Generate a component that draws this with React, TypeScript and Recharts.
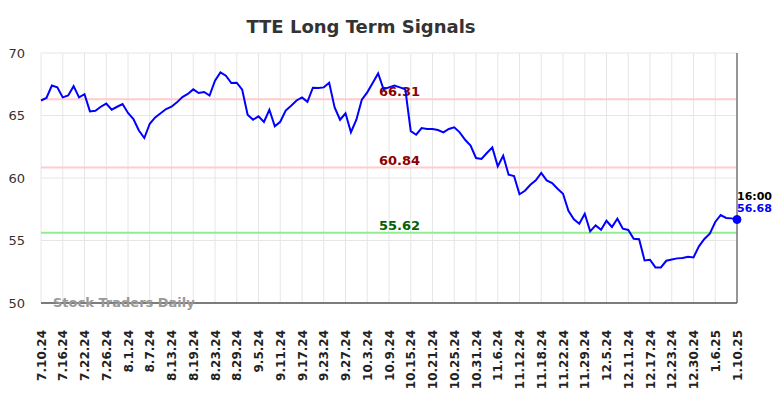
import React from "react";
import {
  LineChart,
  Line,
  XAxis,
  YAxis,
  CartesianGrid,
  ReferenceLine,
  ReferenceDot,
} from "recharts";

const dates: string[] = [
  "7.10.24","7.11.24","7.12.24","7.15.24","7.16.24","7.17.24","7.18.24","7.19.24","7.22.24","7.23.24","7.24.24","7.25.24","7.26.24","7.29.24","7.30.24","7.31.24",
  "8.1.24","8.2.24","8.5.24","8.6.24","8.7.24","8.8.24","8.9.24","8.12.24","8.13.24","8.14.24","8.15.24","8.16.24","8.19.24","8.20.24","8.21.24","8.22.24","8.23.24","8.26.24","8.27.24","8.28.24","8.29.24","8.30.24",
  "9.3.24","9.4.24","9.5.24","9.6.24","9.9.24","9.10.24","9.11.24","9.12.24","9.13.24","9.16.24","9.17.24","9.18.24","9.19.24","9.20.24","9.23.24","9.24.24","9.25.24","9.26.24","9.27.24","9.30.24",
  "10.1.24","10.2.24","10.3.24","10.4.24","10.7.24","10.8.24","10.9.24","10.10.24","10.11.24","10.14.24","10.15.24","10.16.24","10.17.24","10.18.24","10.21.24","10.22.24","10.23.24","10.24.24","10.25.24","10.28.24","10.29.24","10.30.24","10.31.24",
  "11.1.24","11.4.24","11.5.24","11.6.24","11.7.24","11.8.24","11.11.24","11.12.24","11.13.24","11.14.24","11.15.24","11.18.24","11.19.24","11.20.24","11.21.24","11.22.24","11.25.24","11.26.24","11.27.24","11.29.24",
  "12.2.24","12.3.24","12.4.24","12.5.24","12.6.24","12.9.24","12.10.24","12.11.24","12.12.24","12.13.24","12.16.24","12.17.24","12.18.24","12.19.24","12.20.24","12.23.24","12.24.24","12.26.24","12.27.24","12.30.24","12.31.24",
  "1.2.25","1.3.25","1.6.25","1.7.25","1.8.25","1.9.25","1.10.25",
];

const prices: number[] = [
  66.2, 66.4, 67.4, 67.25, 66.45, 66.6, 67.35, 66.45, 66.7, 65.33,
  65.38, 65.7, 65.95, 65.46, 65.7, 65.92, 65.2, 64.72, 63.8, 63.2,
  64.34, 64.85, 65.18, 65.52, 65.7, 66.05, 66.48, 66.72, 67.09, 66.8,
  66.88, 66.6, 67.78, 68.45, 68.18, 67.6, 67.62, 67.06, 65.06, 64.66,
  64.93, 64.48, 65.46, 64.13, 64.5, 65.4, 65.78, 66.2, 66.45, 66.1,
  67.22, 67.2, 67.25, 67.62, 65.65, 64.66, 65.18, 63.66, 64.66, 66.26,
  66.85, 67.6, 68.36, 67.1, 67.25, 67.4, 67.25, 67.1, 63.75, 63.46,
  64.0, 63.92, 63.92, 63.84, 63.65, 63.92, 64.05, 63.65, 63.06, 62.6,
  61.6, 61.52, 62.0, 62.45, 60.93, 61.78, 60.26, 60.15, 58.7, 58.98,
  59.46, 59.81, 60.4, 59.81, 59.6, 59.14, 58.74, 57.38, 56.7, 56.34,
  57.14, 55.73, 56.21, 55.86, 56.58, 56.08, 56.74, 55.94, 55.84, 55.14,
  55.1, 53.41, 53.46, 52.85, 52.85, 53.38, 53.48, 53.57, 53.6, 53.7,
  53.65, 54.53, 55.12, 55.54, 56.48, 57.04, 56.8, 56.77, 56.68,
];

const tickLabels: string[] = [
  "7.10.24","7.16.24","7.22.24","7.26.24","8.1.24","8.7.24","8.13.24","8.19.24","8.23.24","8.29.24",
  "9.5.24","9.11.24","9.17.24","9.23.24","9.27.24","10.3.24","10.9.24","10.15.24","10.21.24","10.25.24",
  "10.31.24","11.6.24","11.12.24","11.18.24","11.22.24","11.29.24","12.5.24","12.11.24","12.17.24","12.23.24",
  "12.30.24","1.6.25","1.10.25",
];

const yTicks: number[] = [50, 55, 60, 65, 70];

const resistanceHigh = 66.31;
const resistanceMid = 60.84;
const support = 55.62;
const lastTime = "16:00";

const data = dates.map((d, i) => ({ date: d, price: prices[i] }));
const lastDate = dates[dates.length - 1];
const lastPrice = prices[prices.length - 1];

const FONT = "'DejaVu Sans', sans-serif";

const XTick = (props: any) => {
  const { x, y, payload } = props;
  return (
    <text
      x={0}
      y={0}
      transform={`translate(${x + 4.5},${y + 19}) rotate(-90)`}
      textAnchor="end"
      fontFamily={FONT}
      fontWeight="bold"
      fontSize={12}
      fill="#222"
    >
      {payload.value}
    </text>
  );
};

const makeRefLabel = (text: string, color: string) => (props: any) => {
  const vb = props.viewBox || {};
  return (
    <text
      x={vb.x + vb.width * 0.515}
      y={vb.y - 3}
      textAnchor="middle"
      fontFamily={FONT}
      fontWeight="bold"
      fontSize={13}
      fill={color}
    >
      {text}
    </text>
  );
};

const EndLabel = (props: any) => {
  const vb = props.viewBox || {};
  const cx = vb.x + (vb.width || 0) / 2;
  const cy = vb.y + (vb.height || 0) / 2;
  return (
    <g fontFamily={FONT} fontWeight="bold" fontSize={11}>
      <text x={cx} y={cy - 20} fill="#000" textAnchor="start">
        {lastTime}
      </text>
      <text x={cx} y={cy - 8} fill="#0000ff" textAnchor="start">
        {lastPrice.toFixed(2)}
      </text>
    </g>
  );
};

export default function App() {
  return (
    <div style={{ position: "absolute", left: 0, top: 0, width: 784, height: 398, background: "#fff" }}>
      <LineChart
        width={784}
        height={398}
        data={data}
        margin={{ top: 53, right: 47, left: 0, bottom: 0 }}
      >
        <CartesianGrid stroke="#e6e6e6" strokeWidth={1} />
        <XAxis
          dataKey="date"
          ticks={tickLabels}
          interval={0}
          height={95}
          tick={<XTick />}
          tickLine={false}
          axisLine={{ stroke: "#555", strokeWidth: 1.5 }}
        />
        <YAxis
          domain={[50, 70]}
          ticks={yTicks}
          width={41}
          axisLine={false}
          tickLine={false}
          tickMargin={10}
          tick={{ fontFamily: FONT, fontSize: 13, fill: "#333" }}
        />
        <ReferenceLine
          y={resistanceHigh}
          stroke="#ffcccc"
          strokeWidth={2}
          label={makeRefLabel(resistanceHigh.toFixed(2), "#8b0000")}
        />
        <ReferenceLine
          y={resistanceMid}
          stroke="#ffcccc"
          strokeWidth={2}
          label={makeRefLabel(resistanceMid.toFixed(2), "#8b0000")}
        />
        <ReferenceLine
          y={support}
          stroke="#90ee90"
          strokeWidth={2}
          label={makeRefLabel(support.toFixed(2), "#006400")}
        />
        <ReferenceLine x={lastDate} stroke="#777" strokeWidth={1.5} />
        <Line
          type="linear"
          dataKey="price"
          stroke="#0000ff"
          strokeWidth={2}
          dot={false}
          isAnimationActive={false}
        />
        <ReferenceDot
          x={lastDate}
          y={lastPrice}
          r={4}
          fill="#0000ff"
          stroke="#0000ff"
          label={<EndLabel />}
        />
      </LineChart>
      <svg
        width={784}
        height={398}
        style={{ position: "absolute", left: 0, top: 0, pointerEvents: "none" }}
      >
        <text
          x={361}
          y={33}
          textAnchor="middle"
          fontFamily={FONT}
          fontWeight="bold"
          fontSize={18}
          fill="#333"
        >
          TTE Long Term Signals
        </text>
        <text
          x={53}
          y={307}
          fontFamily={FONT}
          fontWeight="bold"
          fontSize={13}
          fill="#999"
        >
          Stock Traders Daily
        </text>
      </svg>
    </div>
  );
}
